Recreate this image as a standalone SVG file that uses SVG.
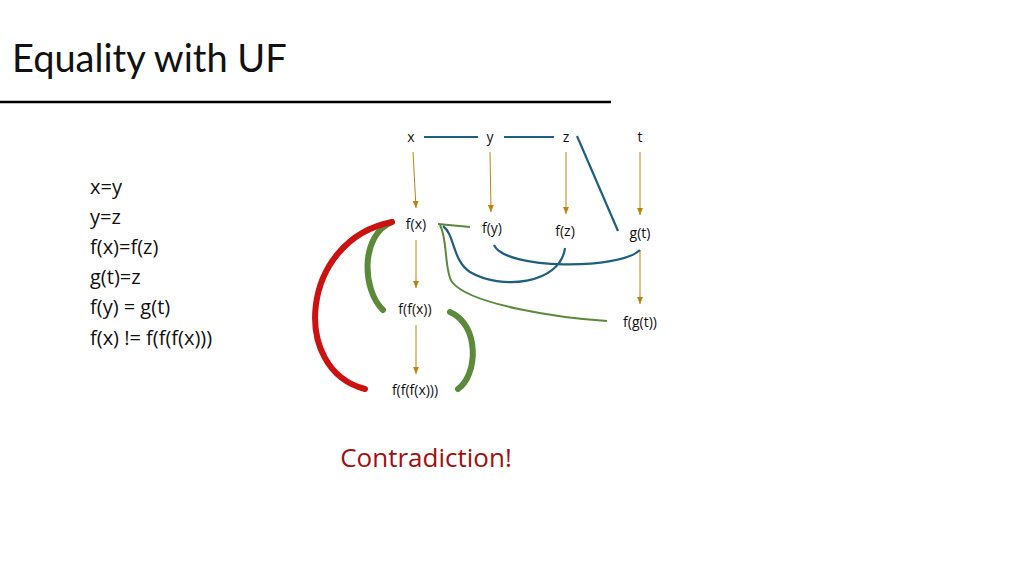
<svg xmlns="http://www.w3.org/2000/svg" width="1024" height="576" viewBox="0 0 1024 576">
<style>
text{font-family:"Open Sans","Liberation Sans",sans-serif;fill:#111}
.n{font-size:14px;text-anchor:middle}
.a{stroke:#b8860b;stroke-width:1;fill:none;marker-end:url(#ah)}
.b{stroke:#1f5f7f;stroke-width:2.2;fill:none}
.g{stroke:#5a8a3a;stroke-width:2;fill:none}
.G{stroke:#5a8a3a;stroke-width:6;fill:none;stroke-linecap:round}
.R{stroke:#cc1111;stroke-width:6;fill:none;stroke-linecap:round}
</style>
<defs><marker id="ah" markerWidth="8" markerHeight="8" refX="7" refY="4" orient="auto" markerUnits="userSpaceOnUse"><path d="M0,1 L7,4 L0,7Z" fill="#b8860b"/></marker></defs>
<rect width="1024" height="576" fill="#fff"/>
<text x="12" y="72" style="font-size:38px;font-family:'Lato','Liberation Sans',sans-serif">Equality with UF</text>
<line x1="0" y1="102" x2="611" y2="102" stroke="#000" stroke-width="2.5"/>
<g style="font-size:20px">
<text x="90" y="194">x=y</text><text x="90" y="224">y=z</text><text x="90" y="254">f(x)=f(z)</text>
<text x="90" y="284">g(t)=z</text><text x="90" y="314">f(y) = g(t)</text><text x="90" y="345">f(x) != f(f(f(x)))</text>
</g>
<g id="connectors">
<line class="b" x1="424" y1="137" x2="478" y2="137"/>
<line class="b" x1="504" y1="137" x2="554" y2="137"/>
<line class="b" x1="577" y1="136" x2="618" y2="231"/>
<line class="a" x1="413" y1="152" x2="416" y2="208"/>
<line class="a" x1="490" y1="152" x2="491" y2="212"/>
<line class="a" x1="566" y1="152" x2="566" y2="214"/>
<line class="a" x1="640" y1="152" x2="640" y2="215"/>
<line class="a" x1="416" y1="240" x2="416" y2="288"/>
<line class="a" x1="416" y1="325" x2="416" y2="374"/>
<line class="a" x1="640" y1="250" x2="640" y2="304"/>
<line class="g" x1="438" y1="224" x2="470" y2="227"/>
<path class="g" d="M440,225 C448,240 444,270 452,282 C470,305 560,318 607,321"/>
<path class="b" d="M443,226 C455,235 452,260 470,272 C500,290 560,285 565,248"/>
<path class="b" d="M494,245 C505,270 620,270 640,250"/>
<path class="G" d="M392,222 C360,235 362,290 383,310"/>
<path class="G" d="M450,312 C480,325 478,375 458,389"/>
<path class="R" d="M392,222 C300,240 290,370 365,389"/>
</g>
<g id="x"><text class="n" x="411" y="142">x</text></g>
<g id="y"><text class="n" x="490" y="142">y</text></g>
<g id="z"><text class="n" x="566" y="142">z</text></g>
<g id="t"><text class="n" x="640" y="142">t</text></g>
<g id="fx"><text class="n" x="416" y="229">f(x)</text></g>
<g id="fy"><text class="n" x="492" y="233">f(y)</text></g>
<g id="fz"><text class="n" x="565" y="236">f(z)</text></g>
<g id="gt"><text class="n" x="640" y="238">g(t)</text></g>
<g id="ffx"><text class="n" x="415" y="314">f(f(x))</text></g>
<g id="fgt"><text class="n" x="640" y="327">f(g(t))</text></g>
<g id="fffx"><text class="n" x="415" y="395">f(f(f(x)))</text></g>
<text x="426" y="467" style="font-size:26px;fill:#a01010;text-anchor:middle">Contradiction!</text>
</svg>
